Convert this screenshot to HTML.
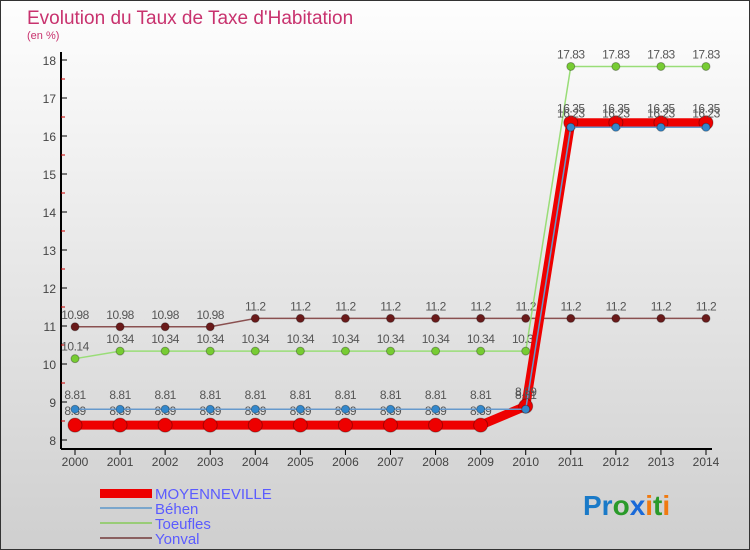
<!DOCTYPE html>
<html><head><meta charset="utf-8"><style>
body{margin:0;width:750px;height:550px;overflow:hidden;font-family:"Liberation Sans",sans-serif}
#c{position:absolute;left:0;top:0;width:748px;height:548px;border:1px solid #333;background:linear-gradient(#fefefe,#cfcfcf)}
</style></head><body>
<div id="c"></div>
<svg id="s" width="750" height="550" style="position:absolute;left:0;top:0">
<text x="27" y="24" font-size="19" fill="#c8326e">Evolution du Taux de Taxe d'Habitation</text>
<text x="27" y="39" font-size="11" fill="#c8326e">(en %)</text>
<g id="g"></g>
<g>
<rect x="100" y="489" width="52" height="9" fill="#e00"/>
<text x="155" y="499" font-size="15" fill="#5b5bff">MOYENNEVILLE</text>
<line x1="100" x2="152" y1="508" y2="508" stroke="#7aa6cc" stroke-width="2"/>
<text x="155" y="514" font-size="15" fill="#5b5bff">Béhen</text>
<line x1="100" x2="152" y1="523" y2="523" stroke="#99cc77" stroke-width="2"/>
<text x="155" y="529" font-size="15" fill="#5b5bff">Toeufles</text>
<line x1="100" x2="152" y1="538" y2="538" stroke="#8a6060" stroke-width="2"/>
<text x="155" y="544" font-size="15" fill="#5b5bff">Yonval</text>
</g>
<text x="583" y="515" font-size="28" font-weight="bold"><tspan fill="#1a7ac8">Pr</tspan><tspan fill="#2a9a2a">o</tspan><tspan fill="#1a6ad8">x</tspan><tspan fill="#f07a10">i</tspan><tspan fill="#2a9a2a">t</tspan><tspan fill="#f07a10">i</tspan></text>
</svg>
<script>
const years=[2000,2001,2002,2003,2004,2005,2006,2007,2008,2009,2010,2011,2012,2013,2014];
const yTicks=[8,9,10,11,12,13,14,15,16,17,18];
const moyenneville=[8.39,8.39,8.39,8.39,8.39,8.39,8.39,8.39,8.39,8.39,8.89,16.35,16.35,16.35,16.35];
const behen=[8.81,8.81,8.81,8.81,8.81,8.81,8.81,8.81,8.81,8.81,8.81,16.23,16.23,16.23,16.23];
const toeufles=[10.14,10.34,10.34,10.34,10.34,10.34,10.34,10.34,10.34,10.34,10.34,17.83,17.83,17.83,17.83];
const yonval=[10.98,10.98,10.98,10.98,11.2,11.2,11.2,11.2,11.2,11.2,11.2,11.2,11.2,11.2,11.2];
const X=i=>75+i*(631/14), Y=v=>440-(v-8)*38;
const g=document.getElementById('g'),NS='http://www.w3.org/2000/svg';
function mk(t,a){const e=document.createElementNS(NS,t);for(const k in a)e.setAttribute(k,a[k]);g.appendChild(e);return e;}
let e=mk('line',{x1:61,x2:61,y1:52,y2:449,stroke:'#000','stroke-width':2});

e=mk('line',{x1:61,x2:712,y1:449,y2:449,stroke:'#000','stroke-width':2});

yTicks.forEach(v=>{let t=mk('line',{x1:61,x2:67,y1:Y(v),y2:Y(v),stroke:'#000'});

if(v<18){let m=mk('line',{x1:61,x2:65,y1:Y(v+0.5),y2:Y(v+0.5),stroke:'#c00'});}
let l=mk('text',{x:56,y:Y(v)+5,'font-size':12,fill:'#444','text-anchor':'end'});l.textContent=v;
});
years.forEach((y,i)=>{let t=mk('line',{x1:X(i),x2:X(i),y1:449,y2:455,stroke:'#000'});

let l=mk('text',{x:X(i),y:466,'font-size':12,fill:'#444','text-anchor':'middle'});l.textContent=y;
});
function series(d,name,col,w,dot,r,lab){
let p=mk('polyline',{points:d.map((v,i)=>X(i)+','+Y(v)).join(' '),fill:'none',stroke:col,'stroke-width':w});

d.forEach((v,i)=>{let c=mk('circle',{cx:X(i),cy:Y(v),r:r,fill:dot,stroke:'rgba(0,0,0,0.3)'});

let t=mk('text',{x:X(i),y:Y(v)-lab,'font-size':12,fill:'#555','text-anchor':'middle','letter-spacing':'-0.5'});t.textContent=v;
});}
series(yonval,'yonval','#8a5050',1.5,'#6a1a1a',4,8);
series(toeufles,'toeufles','#99dd77',1.5,'#77cc33',4,8);
series(moyenneville,'moyenneville','#ee0000',9,'#ee0000',7,10);
series(behen,'behen','#6699cc',1.5,'#3388cc',4,10);
</script>
</body></html>
